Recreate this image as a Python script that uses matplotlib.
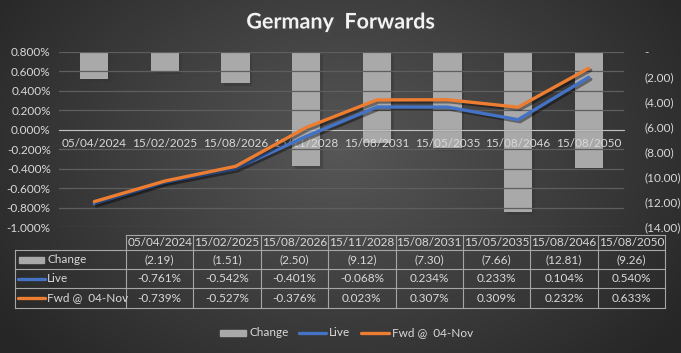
import numpy as np
import matplotlib
matplotlib.use("Agg")
import matplotlib.pyplot as plt
import matplotlib.patheffects as pe
from matplotlib.ticker import FuncFormatter

dates = ["05/04/2024", "15/02/2025", "15/08/2026", "15/11/2028",
         "15/08/2031", "15/05/2035", "15/08/2046", "15/08/2050"]
change = [-2.19, -1.51, -2.50, -9.12, -7.30, -7.66, -12.81, -9.26]
live = [-0.761, -0.542, -0.401, -0.068, 0.234, 0.233, 0.104, 0.540]
fwd = [-0.739, -0.527, -0.376, 0.023, 0.307, 0.309, 0.232, 0.633]

W, H = 681, 353
TXT = "#d9d9d9"
BLUE = "#4472c4"
ORANGE = "#ed7d31"
BARC = "#a9a9a9"

plt.rcParams['font.family'] = ['Lato', 'DejaVu Sans']

fig = plt.figure(figsize=(W / 100, H / 100), dpi=100)

def fx(x):
    return x / W

def fy(y):
    return 1 - y / H

# background radial gradient
bg = fig.add_axes([0, 0, 1, 1])
yy, xx = np.mgrid[0:H, 0:W]
r = np.sqrt(((xx - 340) / 420) ** 2 + ((yy - 150) / 300) ** 2)
shade = 0.34 - 0.19 * np.clip(r, 0, 1)
bg.imshow(np.dstack([shade] * 3), extent=[0, W, H, 0], aspect='auto')
bg.set_xlim(0, W)
bg.set_ylim(H, 0)
bg.axis('off')

# plot area
ax = fig.add_axes([fx(59), fy(227), fx(624) - fx(59), fy(52) - fy(227)])
ax2 = ax.twinx()
x = np.arange(len(dates))

ax2.bar(x, change, width=0.4, color=BARC, zorder=2,
        path_effects=[pe.SimplePatchShadow(offset=(2, -2), alpha=0.4), pe.Normal()])
ax2.set_ylim(-14, 0)
ax2.set_yticks(np.arange(-14, 0.1, 2))

def acct(v, pos):
    if abs(v) < 1e-9:
        return "-      "
    return "(%.2f)" % abs(v) if v < 0 else "%.2f" % v

ax2.yaxis.set_major_formatter(FuncFormatter(acct))

def pct(v, pos):
    if abs(v) < 1e-9:
        v = 0.0
    return "%.3f%%" % v

ax.set_zorder(ax2.get_zorder() + 1)
ax.patch.set_visible(False)
ax.plot(x, live, color=BLUE, lw=2.4, solid_capstyle='round', zorder=3,
        path_effects=[pe.SimpleLineShadow(offset=(1.5, -1.5), alpha=0.4), pe.Normal()])
ax.plot(x, fwd, color=ORANGE, lw=2.4, solid_capstyle='round', zorder=4,
        path_effects=[pe.SimpleLineShadow(offset=(1.5, -1.5), alpha=0.4), pe.Normal()])
ax.set_ylim(-1.0, 0.8)
ax.set_yticks(np.arange(-1.0, 0.81, 0.2))
ax.yaxis.set_major_formatter(FuncFormatter(pct))
ax.set_xlim(-0.5, len(dates) - 0.5)
ax.set_xticks(x)
ax.set_xticklabels(dates)
ax.grid(axis='y', color="#5e5e5e", lw=0.9)
ax.set_axisbelow(True)
ax.spines['bottom'].set_position(('data', 0))
ax.spines['bottom'].set_color("#bfbfbf")
for s in ['top', 'left', 'right']:
    ax.spines[s].set_visible(False)
for s in ['top', 'left', 'right', 'bottom']:
    ax2.spines[s].set_visible(False)
ax.tick_params(axis='x', length=0, pad=6, labelsize=8.5, labelcolor=TXT)
ax.tick_params(axis='y', length=0, pad=6, labelsize=8.5, labelcolor=TXT)
ax2.tick_params(axis='y', length=0, pad=15, labelsize=8.5, labelcolor=TXT)

# title
fig.text(0.5, fy(22), "Germany  Forwards", ha='center', va='center',
         fontsize=15.5, fontweight='bold', color="#f2f2f2",
         path_effects=[pe.withSimplePatchShadow(offset=(1.5, -1.5), alpha=0.7)])

# data table
cols = np.linspace(126, 665, len(dates) + 1)
rows = [235, 250, 269.3, 288.3, 307.7]
lc = "#a6a6a6"
lw = 0.8
fig.add_artist(plt.Line2D([fx(126), fx(665)], [fy(235), fy(235)], color=lc, lw=lw))
for yv in rows[1:]:
    fig.add_artist(plt.Line2D([fx(14.5), fx(665)], [fy(yv), fy(yv)], color=lc, lw=lw))
for xv in cols:
    fig.add_artist(plt.Line2D([fx(xv), fx(xv)], [fy(235), fy(307.7)], color=lc, lw=lw))
fig.add_artist(plt.Line2D([fx(14.5), fx(14.5)], [fy(250), fy(307.7)], color=lc, lw=lw))

row_vals = [["(%.2f)" % abs(v) for v in change],
            ["%.3f%%" % v for v in live],
            ["%.3f%%" % v for v in fwd]]
row_names = ["Change", "Live", "Fwd @  04-Nov"]
for i, d in enumerate(dates):
    fig.text(fx((cols[i] + cols[i + 1]) / 2), fy((rows[0] + rows[1]) / 2), d,
             ha='center', va='center', fontsize=8.5, color=TXT)
for r_i in range(3):
    yc = (rows[r_i + 1] + rows[r_i + 2]) / 2
    for i in range(len(dates)):
        fig.text(fx((cols[i] + cols[i + 1]) / 2), fy(yc), row_vals[r_i][i],
                 ha='center', va='center', fontsize=8.5, color=TXT)
    fig.text(fx(47), fy(yc), row_names[r_i], ha='left', va='center',
             fontsize=8.5, color=TXT)
    if r_i == 0:
        fig.add_artist(plt.Rectangle((fx(19), fy(yc + 3)), fx(25), fy(yc - 3) - fy(yc + 3),
                                     color=BARC, transform=fig.transFigure))
    else:
        fig.add_artist(plt.Line2D([fx(18), fx(45)], [fy(yc), fy(yc)],
                                  color=BLUE if r_i == 1 else ORANGE, lw=2.4,
                                  solid_capstyle='round'))

# legend
ly = 333
fig.add_artist(plt.Rectangle((fx(220), fy(ly + 3)), fx(26), fy(ly - 3) - fy(ly + 3),
                             color=BARC, transform=fig.transFigure))
fig.text(fx(249), fy(ly), "Change", ha='left', va='center', fontsize=8.5, color=TXT)
fig.add_artist(plt.Line2D([fx(299), fx(326)], [fy(ly), fy(ly)], color=BLUE, lw=2.4,
                          solid_capstyle='round'))
fig.text(fx(329), fy(ly), "Live", ha='left', va='center', fontsize=8.5, color=TXT)
fig.add_artist(plt.Line2D([fx(361), fx(389)], [fy(ly), fy(ly)], color=ORANGE, lw=2.4,
                          solid_capstyle='round'))
fig.text(fx(392), fy(ly), "Fwd @  04-Nov", ha='left', va='center', fontsize=8.5, color=TXT)

fig.savefig("out.png", dpi=100)
